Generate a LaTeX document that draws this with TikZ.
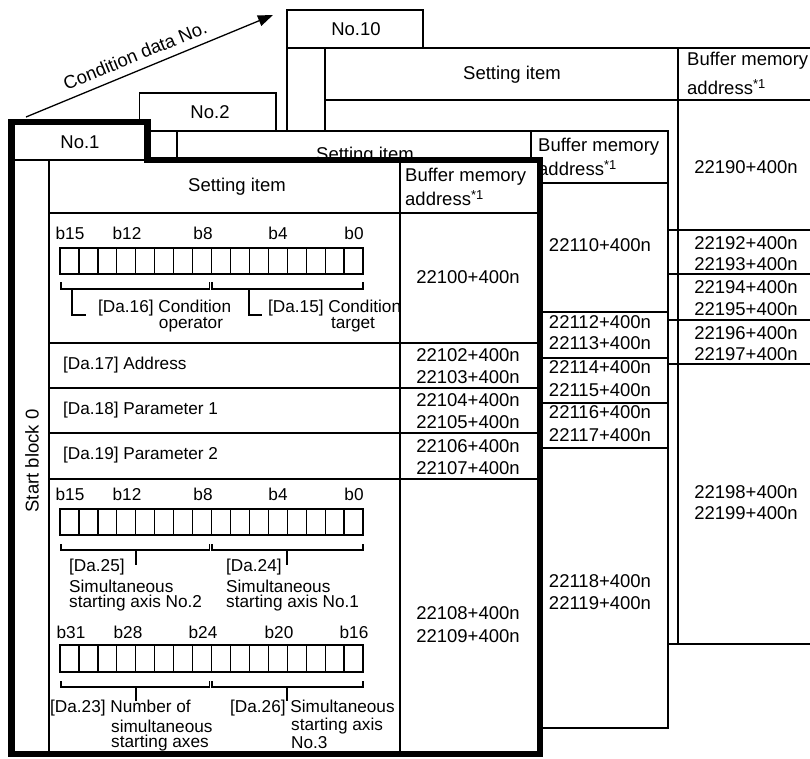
\documentclass[tikz,border=0pt]{standalone}
\usepackage{fontspec}
\setmainfont{Liberation Sans}
\usetikzlibrary{arrows.meta}
\begin{document}
\begin{tikzpicture}[x=1pt,y=-1pt,
  rule/.style={line width=1.3pt},
  big/.style={font=\fontsize{18.5}{22}\selectfont, inner sep=0pt},
  small/.style={font=\fontsize{17.2}{18}\selectfont, inner sep=0pt},
  lsmall/.style={small, anchor=west},
  lbig/.style={big, anchor=west},
  sheet/.style={fill=white, line width=1.3pt},
  outline/.style={line width=6.5pt, line join=miter}]
\useasboundingbox (0,0) rectangle (810,758);
\clip (0,0) rectangle (810,758);

% ---------------- arrow ----------------
\coordinate (arrS) at (26,117);
\coordinate (arrE) at (273,15);
\draw[rule, -{Triangle[length=15pt,width=11pt]}] (arrS) -- (arrE)
  node[pos=0.465, above=8pt, sloped, big] (lbl) {Condition data No.};

% ---------------- sheet No.10 ----------------
\draw[sheet] (287,10) -- (423,10) -- (423,48) -- (816,48) -- (816,644) -- (287,644) -- cycle;
\draw[rule] (287,48) -- (423,48);
\draw[rule] (325,48) -- (325,644);
\draw[rule] (325,100) -- (816,100);
\draw[rule] (678,48) -- (678,644);
\foreach \yy in {230,274,320,364} \draw[rule] (325,\yy) -- (816,\yy);
\node[big] (t10) at (356,29) {No.10};
\node[big] (s10) at (512,75) {Setting item};
\node[lbig] (b10a) at (687,61) {Buffer memory};
\node[lbig] (b10b) at (687,87) {address\textsuperscript{*1}};
\node[big] (a190) at (746,167) {22190+400n};
\node[big] (a192) at (746,243) {22192+400n};
\node[big] (a193) at (746,264) {22193+400n};
\node[big] (a194) at (746,287) {22194+400n};
\node[big] (a195) at (746,309) {22195+400n};
\node[big] (a196) at (746,333) {22196+400n};
\node[big] (a197) at (746,354) {22197+400n};
\node[big] (a198) at (746,492) {22198+400n};
\node[big] (a199) at (746,513) {22199+400n};

% ---------------- sheet No.2 ----------------
\draw[sheet] (139.5,93) -- (276,93) -- (276,131) -- (668,131) -- (668,728) -- (139.5,728) -- cycle;
\draw[rule] (139.5,131) -- (276,131);
\draw[rule] (177,131) -- (177,728);
\draw[rule] (531,131) -- (531,728);
\draw[rule] (177,183) -- (668,183);
\foreach \yy in {312,358,403,448} \draw[rule] (177,\yy) -- (668,\yy);
\node[big] (t2) at (210,112) {No.2};
\node[big] (s2) at (365,156) {Setting item};
\node[lbig] (b2a) at (538,147) {Buffer memory};
\node[lbig] (b2b) at (538,168) {address\textsuperscript{*1}};
\node[big] (a110) at (600,245) {22110+400n};
\node[big] (a112) at (600,322) {22112+400n};
\node[big] (a113) at (600,343) {22113+400n};
\node[big] (a114) at (600,367) {22114+400n};
\node[big] (a115) at (600,390) {22115+400n};
\node[big] (a116) at (600,412) {22116+400n};
\node[big] (a117) at (600,435) {22117+400n};
\node[big] (a118) at (600,581) {22118+400n};
\node[big] (a119) at (600,603) {22119+400n};

% ---------------- sheet No.1 ----------------
\fill[white] (11.5,122) -- (147.5,122) -- (147.5,160) -- (540,160) -- (540,754) -- (11.5,754) -- cycle;
\draw[rule] (11.5,160) -- (147.5,160);
\draw[rule] (49,160) -- (49,754);
\draw[rule] (400,160) -- (400,754);
\draw[rule] (49,213) -- (540,213);
\foreach \yy in {343,388,433,479} \draw[rule] (49,\yy) -- (540,\yy);
\node[big] (t1) at (80,142) {No.1};
\node[big, rotate=90] (sb) at (32,461) {Start block 0};
\node[big] (s1) at (237,187) {Setting item};
\node[lbig] (b1a) at (405,177) {Buffer memory};
\node[lbig] (b1b) at (405,198) {address\textsuperscript{*1}};
\node[big] (a100) at (468,277) {22100+400n};
\node[big] (a102) at (468,355) {22102+400n};
\node[big] (a103) at (468,377) {22103+400n};
\node[big] (a104) at (468,400) {22104+400n};
\node[big] (a105) at (468,422) {22105+400n};
\node[big] (a106) at (468,446) {22106+400n};
\node[big] (a107) at (468,468) {22107+400n};
\node[big] (a108) at (468,613) {22108+400n};
\node[big] (a109) at (468,636) {22109+400n};

\node[lsmall] (d17) at (63,365) {[Da.17] Address};
\node[lsmall] (d18) at (63,410) {[Da.18] Parameter 1};
\node[lsmall] (d19) at (63,455) {[Da.19] Parameter 2};

% register 1 (b15..b0)
\foreach \xx/\tt in {70/b15,127/b12,203/b8,278/b4,354/b0}
  \node[small] at (\xx,233) {\tt};
\foreach \i in {0,...,15} \draw[rule] ({60+\i*18.94},248) rectangle ++(18.94,26);
\draw[rule] (61,282) -- (61,289) -- (209.5,289) -- (209.5,282);
\draw[rule] (212,282) -- (212,289) -- (363,289) -- (363,282);
\draw[rule] (72,289) -- (72,315) -- (86,315);
\draw[rule] (249,289) -- (249,315) -- (262,315);
\node[lsmall] (d16a) at (98,308) {[Da.16] Condition};
\node[small] (d16b) at (191,325) {operator};
\node[lsmall] (d15a) at (268,308) {[Da.15] Condition};
\node[small] (d15b) at (353,325) {target};

% register 2 (b15..b0)
\foreach \xx/\tt in {70/b15,127/b12,203/b8,278/b4,354/b0}
  \node[small] at (\xx,494) {\tt};
\foreach \i in {0,...,15} \draw[rule] ({60+\i*18.94},509) rectangle ++(18.94,26);
\draw[rule] (61,544) -- (61,550) -- (209.5,550) -- (209.5,544);
\draw[rule] (212,544) -- (212,550) -- (363,550) -- (363,544);
\draw[rule] (136,550) -- (136,565);
\draw[rule] (287,550) -- (287,565);
\node[lsmall] (d25a) at (69,567) {[Da.25]};
\node[lsmall] (d25b) at (69,586) {Simultaneous};
\node[lsmall] (d25c) at (69,603) {starting axis No.2};
\node[lsmall] (d24a) at (226,567) {[Da.24]};
\node[lsmall] (d24b) at (226,586) {Simultaneous};
\node[lsmall] (d24c) at (226,603) {starting axis No.1};

% register 3 (b31..b16)
\foreach \xx/\tt in {71/b31,128/b28,203/b24,279/b20,354/b16}
  \node[small] at (\xx,632) {\tt};
\foreach \i in {0,...,15} \draw[rule] ({60+\i*18.94},645) rectangle ++(18.94,27);
\draw[rule] (61,681) -- (61,687) -- (209.5,687) -- (209.5,681);
\draw[rule] (212,681) -- (212,687) -- (363,687) -- (363,681);
\draw[rule] (136,687) -- (136,701);
\draw[rule] (287,687) -- (287,701);
\node[lsmall] (d23a) at (50,708) {[Da.23] Number of};
\node[lsmall] (d23b) at (111,726) {simultaneous};
\node[lsmall] (d23c) at (111,743) {starting axes};
\node[lsmall] (d26a) at (230,708) {[Da.26] Simultaneous};
\node[lsmall] (d26b) at (291,726) {starting axis};
\node[lsmall] (d26c) at (291,743) {No.3};

% thick outline of No.1
\draw[outline] (11.5,122) -- (147.5,122) -- (147.5,160) -- (540,160) -- (540,754) -- (11.5,754) -- cycle;
\end{tikzpicture}
\end{document}
